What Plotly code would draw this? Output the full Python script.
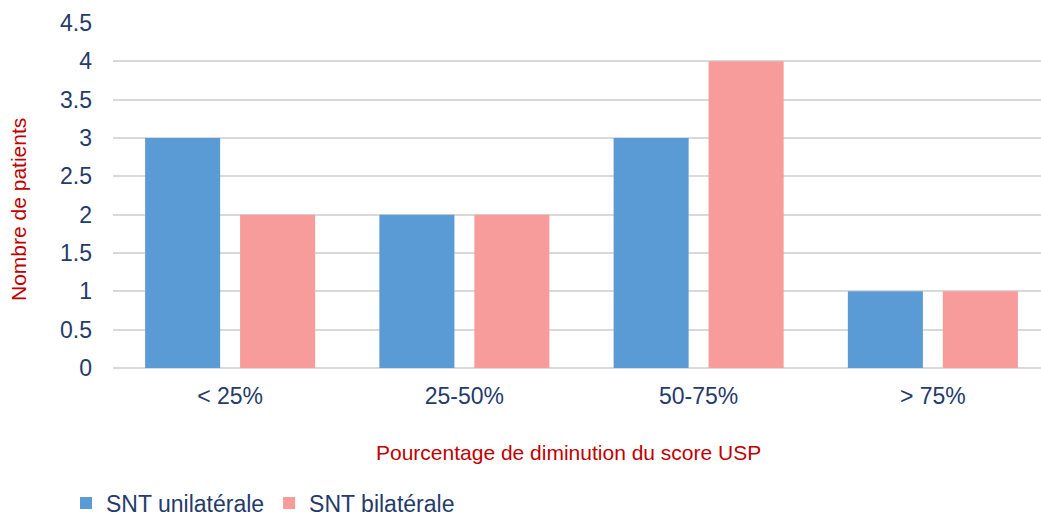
import plotly.graph_objects as go

categories = ["< 25%", "25-50%", "50-75%", "> 75%"]
unilaterale = [3, 2, 3, 1]
bilaterale = [2, 2, 4, 1]
series_names = ["SNT unilatérale", "SNT bilatérale"]
y_ticks = [0, 0.5, 1, 1.5, 2, 2.5, 3, 3.5, 4, 4.5]
y_tick_labels = ["0", "0.5", "1", "1.5", "2", "2.5", "3", "3.5", "4", "4.5"]

navy = "#243B6B"
red = "#C00000"
FONT = "Liberation Sans, Arial, sans-serif"

fig = go.Figure()
fig.add_trace(go.Bar(x=categories, y=unilaterale, name=series_names[0],
                     marker=dict(color="#5B9BD5", line=dict(width=0))))
fig.add_trace(go.Bar(x=categories, y=bilaterale, name=series_names[1],
                     marker=dict(color="#F79B9B", line=dict(width=0))))

W, H = 1041, 516
ml = 113
mt = 23
plot_bottom = 368
mb = H - plot_bottom
mr = 0
PH = H - mt - mb
PW = W - ml - mr


def px(xw):
    return (xw - ml) / PW


def py(yw):
    return (plot_bottom - yw) / PH


fig.update_layout(
    width=W, height=H,
    margin=dict(l=ml, r=mr, t=mt, b=mb, autoexpand=False),
    paper_bgcolor="white", plot_bgcolor="white",
    barmode="group", bargap=0.189, bargroupgap=0.21,
    font=dict(family=FONT, color=navy, size=23),
    showlegend=True,
    legend=dict(orientation="h", x=px(66), xanchor="left",
                y=py(503), yanchor="middle",
                font=dict(size=23, color=navy), itemwidth=30, tracegroupgap=0,
                bgcolor="rgba(0,0,0,0)"),
    xaxis=dict(range=[-0.5, 3.4616], showgrid=False, showline=False, zeroline=False,
               ticks="", tickfont=dict(size=23, color=navy), ticklabelstandoff=12,
               automargin=False),
    yaxis=dict(range=[0, 4.5], tickvals=y_ticks, ticktext=y_tick_labels,
               showgrid=True, gridcolor="#D9D9D9", gridwidth=1.5,
               zeroline=True, zerolinecolor="#D9D9D9", zerolinewidth=1.5,
               showline=False, ticks="", tickfont=dict(size=23, color=navy),
               ticklabelstandoff=20, automargin=False),
)

fig.add_annotation(text="Pourcentage de diminution du score USP",
                   xref="paper", yref="paper",
                   x=px(568), y=py(452),
                   xanchor="center", yanchor="middle", showarrow=False,
                   font=dict(size=21, color=red, family=FONT))
fig.add_annotation(text="Nombre de patients",
                   xref="paper", yref="paper",
                   x=px(18), y=py(210),
                   xanchor="center", yanchor="middle", showarrow=False, textangle=-90,
                   font=dict(size=21, color=red, family=FONT))

fig.write_html("out.html",
               config={"displayModeBar": False},
               post_script="document.body.style.margin='0';document.body.style.overflow='hidden';")
